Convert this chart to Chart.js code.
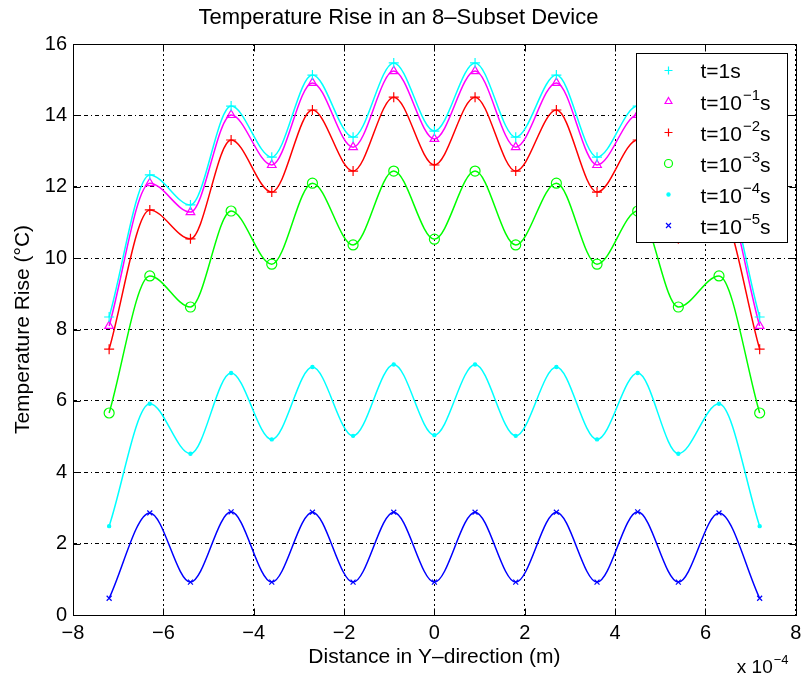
<!DOCTYPE html>
<html>
<head>
<meta charset="utf-8">
<script src="https://cdn.jsdelivr.net/npm/chart.js@4.4.1/dist/chart.umd.min.js"></script>
<style>
  html, body { margin: 0; padding: 0; background: #fff; }
</style>
</head>
<body>
<canvas id="myChart" width="802" height="678"></canvas>
<script>
// distance along Y, in units of 1e-4 m
const distance = [-7.2, -6.3, -5.4, -4.5, -3.6, -2.7, -1.8, -0.9, 0, 0.9, 1.8, 2.7, 3.6, 4.5, 5.4, 6.3, 7.2];

const rise_t1 = [8.35, 12.33, 11.49, 14.26, 12.83, 15.13, 13.39, 15.47, 13.56, 15.47, 13.39, 15.13, 12.83, 14.26, 11.49, 12.33, 8.35];
const rise_t1e1 = [8.10, 12.10, 11.29, 14.01, 12.61, 14.91, 13.11, 15.24, 13.34, 15.24, 13.11, 14.91, 12.61, 14.01, 11.29, 12.10, 8.10];
const rise_t1e2 = [7.45, 11.35, 10.54, 13.31, 11.85, 14.15, 12.44, 14.51, 12.61, 14.51, 12.44, 14.15, 11.85, 13.31, 10.54, 11.35, 7.45];
const rise_t1e3 = [5.66, 9.50, 8.63, 11.32, 9.83, 12.10, 10.37, 12.44, 10.53, 12.44, 10.37, 12.10, 9.83, 11.32, 8.63, 9.50, 5.66];
const rise_t1e4 = [2.49, 5.92, 4.52, 6.78, 4.92, 6.95, 5.02, 7.02, 5.04, 7.02, 5.02, 6.95, 4.92, 6.78, 4.52, 5.92, 2.49];
const rise_t1e5 = [0.47, 2.86, 0.92, 2.89, 0.92, 2.88, 0.92, 2.88, 0.92, 2.88, 0.92, 2.88, 0.92, 2.89, 0.92, 2.86, 0.47];

const seriesLabels = ['t=1s', 't=10⁻¹s', 't=10⁻²s', 't=10⁻³s', 't=10⁻⁴s', 't=10⁻⁵s'];
const legendExponents = [null, '−1', '−2', '−3', '−4', '−5'];
const xTicks = [-8, -6, -4, -2, 0, 2, 4, 6, 8];
const yTicks = [0, 2, 4, 6, 8, 10, 12, 14, 16];

const FONT = "'Liberation Sans', Arial, Helvetica, sans-serif";

function toPoints(values) {
  return values.map((v, i) => ({ x: distance[i], y: v }));
}

function series(label, values, color, style, radius, filled) {
  return {
    label: label,
    data: toPoints(values),
    borderColor: color,
    backgroundColor: color,
    borderWidth: 1.5,
    cubicInterpolationMode: 'monotone',
    pointStyle: style,
    pointRadius: radius,
    pointBorderColor: color,
    pointBackgroundColor: filled ? color : 'rgba(0,0,0,0)',
    pointBorderWidth: 1.2,
    fill: false
  };
}

function drawSuperText(ctx, x, y, base, sup, tail, size) {
  ctx.font = size + 'px ' + FONT;
  ctx.fillText(base, x, y);
  let cx = x + ctx.measureText(base).width;
  if (sup) {
    ctx.font = Math.round(size * 0.7) + 'px ' + FONT;
    ctx.fillText(sup, cx + 1, y - size * 0.42);
    cx += ctx.measureText(sup).width + 1;
    ctx.font = size + 'px ' + FONT;
  }
  if (tail) ctx.fillText(tail, cx, y);
}

const matlabFrame = {
  id: 'matlabFrame',
  afterDatasetsDraw(chart) {
    const { ctx, chartArea: a, scales } = chart;
    const tickLen = 7;
    ctx.save();
    ctx.setLineDash([]);
    ctx.strokeStyle = '#000';
    ctx.lineWidth = 1;

    const L = Math.round(a.left) + 0.5, R = Math.round(a.right) + 0.5;
    const T = Math.round(a.top) + 0.5, B = Math.round(a.bottom) + 0.5;
    ctx.strokeRect(L, T, R - L, B - T);

    ctx.beginPath();
    xTicks.forEach(v => {
      const px = Math.round(scales.x.getPixelForValue(v)) + 0.5;
      ctx.moveTo(px, B); ctx.lineTo(px, B - tickLen);
      ctx.moveTo(px, T); ctx.lineTo(px, T + tickLen);
    });
    yTicks.forEach(v => {
      const py = Math.round(scales.y.getPixelForValue(v)) + 0.5;
      ctx.moveTo(L, py); ctx.lineTo(L + tickLen, py);
      ctx.moveTo(R, py); ctx.lineTo(R - tickLen, py);
    });
    ctx.stroke();

    // legend box (top right, inside axes)
    const boxW = 151, boxH = 189;
    const bx = Math.round(a.right) - 9 - boxW + 0.5;
    const by = Math.round(a.top) + 9 + 0.5;
    ctx.fillStyle = '#fff';
    ctx.fillRect(bx, by, boxW, boxH);
    ctx.strokeRect(bx, by, boxW, boxH);

    const rowH = 31;
    chart.data.datasets.forEach((ds, i) => {
      const cy = by + 17 + i * rowH;
      ctx.strokeStyle = ds.pointBorderColor;
      ctx.fillStyle = ds.pointBackgroundColor;
      ctx.lineWidth = ds.pointBorderWidth;
      Chart.helpers.drawPoint(ctx, {
        pointStyle: ds.pointStyle,
        radius: Math.min(ds.pointRadius, 4),
        borderWidth: ds.pointBorderWidth,
        rotation: 0
      }, bx + 32, cy);
      ctx.fillStyle = '#000';
      ctx.textAlign = 'left';
      ctx.textBaseline = 'middle';
      const exp = legendExponents[i];
      if (exp) {
        drawSuperText(ctx, bx + 64, cy + 3, 't=10', exp, 's', 21);
      } else {
        drawSuperText(ctx, bx + 64, cy + 2, 't=1s', null, null, 21);
      }
    });

    // axis multiplier
    ctx.fillStyle = '#000';
    ctx.textBaseline = 'middle';
    drawSuperText(ctx, a.right - 59, 668, 'x 10', '−4', null, 19);
    ctx.restore();
  }
};

const ctx = document.getElementById('myChart');

new Chart(ctx, {
  type: 'line',
  data: {
    datasets: [
      series(seriesLabels[0], rise_t1, '#00ffff', 'cross', 5, false),
      series(seriesLabels[1], rise_t1e1, '#ff00ff', 'triangle', 5, false),
      series(seriesLabels[2], rise_t1e2, '#ff0000', 'cross', 5, false),
      series(seriesLabels[3], rise_t1e3, '#00ff00', 'circle', 5, false),
      series(seriesLabels[4], rise_t1e4, '#00ffff', 'circle', 1.6, true),
      series(seriesLabels[5], rise_t1e5, '#0000ff', 'crossRot', 3.5, false)
    ]
  },
  options: {
    responsive: false,
    animation: false,
    devicePixelRatio: 1,
    layout: { padding: { left: 0, right: 5, top: 0, bottom: 0 } },
    plugins: {
      legend: { display: false },
      tooltip: { enabled: false },
      title: {
        display: true,
        text: 'Temperature Rise in an 8–Subset Device',
        color: '#000',
        font: { family: FONT, size: 22, weight: 'normal' },
        padding: { top: 5, bottom: 12.6 }
      }
    },
    scales: {
      x: {
        type: 'linear',
        min: -8,
        max: 8,
        afterBuildTicks: s => { s.ticks = xTicks.map(v => ({ value: v })); },
        afterFit: s => { s.height = 63; s.paddingLeft = 0; s.paddingRight = 0; },
        ticks: {
          color: '#000',
          padding: 6,
          maxRotation: 0,
          font: { family: FONT, size: 20 },
          callback: v => (v < 0 ? '−' + Math.abs(v) : String(v))
        },
        grid: { color: '#000', lineWidth: 1, drawTicks: false },
        border: { display: false, dash: [2, 3] },
        title: {
          display: true,
          text: 'Distance in Y–direction (m)',
          color: '#000',
          font: { family: FONT, size: 21 },
          padding: { top: 0, bottom: 8 }
        }
      },
      y: {
        type: 'linear',
        min: 0,
        max: 16,
        afterBuildTicks: s => { s.ticks = yTicks.map(v => ({ value: v })); },
        afterFit: s => { s.width = 73; s.paddingTop = 0; s.paddingBottom = 0; },
        ticks: {
          color: '#000',
          padding: 6,
          font: { family: FONT, size: 20 }
        },
        grid: { color: '#000', lineWidth: 1, drawTicks: false },
        border: { display: false, dash: [4, 3, 1, 3] },
        title: {
          display: true,
          text: 'Temperature Rise (°C)',
          color: '#000',
          font: { family: FONT, size: 21 },
          padding: { top: 11, bottom: 0 }
        }
      }
    }
  },
  plugins: [matlabFrame]
});
</script>
</body>
</html>
